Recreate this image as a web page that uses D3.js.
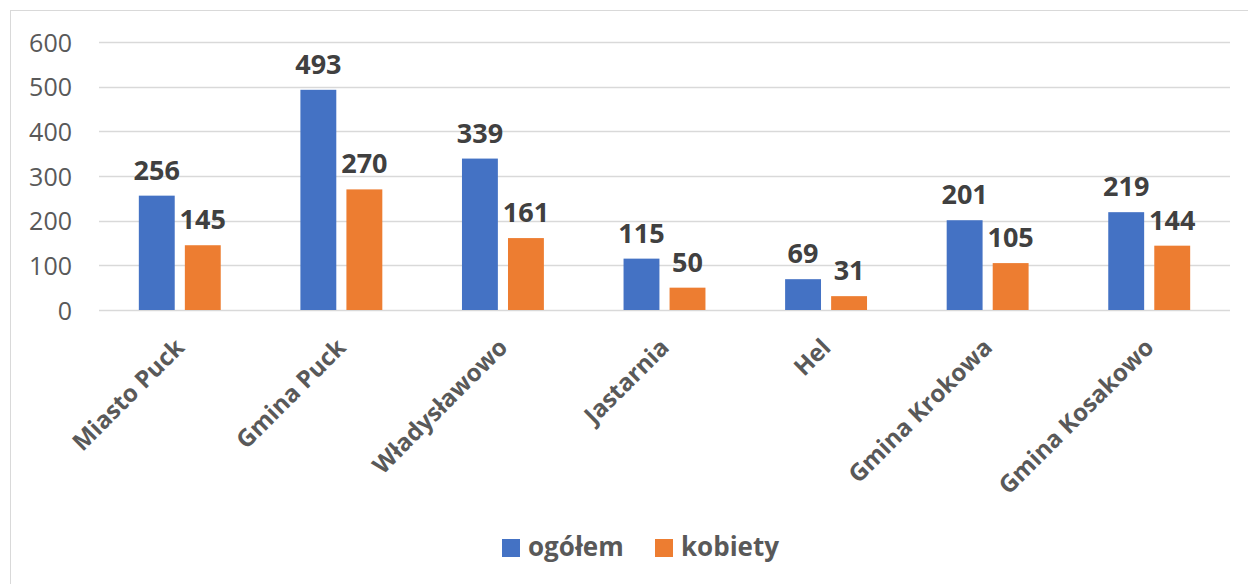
<!DOCTYPE html>
<html>
<head>
<meta charset="utf-8">
<script src="https://cdn.jsdelivr.net/npm/d3@7"></script>
<style>
  body { margin: 0; background: #fff; }
  text { font-family: "Open Sans", sans-serif; }
</style>
</head>
<body>
<svg width="1248" height="584"></svg>
<script>
var categories = ["Miasto Puck", "Gmina Puck", "Władysławowo", "Jastarnia", "Hel", "Gmina Krokowa", "Gmina Kosakowo"];
var seriesNames = ["ogółem", "kobiety"];
var ogolem = [256, 493, 339, 115, 69, 201, 219];
var kobiety = [145, 270, 161, 50, 31, 105, 144];
var yTicks = [0, 100, 200, 300, 400, 500, 600];

var colors = ["#4472C4", "#ED7D31"];

var svg = d3.select("svg"),
    width = +svg.attr("width"),
    height = +svg.attr("height");

// chart frame
svg.append("rect")
    .attr("x", 10.5).attr("y", 10.5)
    .attr("width", 1250).attr("height", 600)
    .attr("fill", "none")
    .attr("stroke", "#d9d9d9");

var plotLeft = 99, plotRight = 1230, plotTop = 42, plotBottom = 310;

var x0 = d3.scaleBand()
    .domain(categories)
    .range([plotLeft, plotRight])
    .paddingInner(0.493)
    .paddingOuter(0.2465);

var x1 = d3.scaleBand()
    .domain(seriesNames)
    .range([0, x0.bandwidth()])
    .paddingInner(0.22);

var y = d3.scaleLinear()
    .domain([0, 600])
    .range([plotBottom, plotTop]);

// grid
svg.append("g")
    .selectAll("line")
    .data(yTicks)
    .enter().append("line")
      .attr("x1", plotLeft).attr("x2", plotRight)
      .attr("y1", function(d) { return Math.round(y(d)) + 0.5; })
      .attr("y2", function(d) { return Math.round(y(d)) + 0.5; })
      .attr("stroke", "#d9d9d9")
      .attr("stroke-width", 1.5);

// y axis labels
var yAxis = d3.axisLeft(y).tickValues(yTicks).tickSize(0).tickPadding(0);
var yg = svg.append("g")
    .attr("transform", "translate(72,0)")
    .call(yAxis);
yg.select(".domain").remove();
yg.selectAll("text")
    .attr("fill", "#595959")
    .style("font-size", "25px")
    .attr("dy", "0.36em");

var rows = categories.map(function(c, i) {
  return { cat: c, values: [ogolem[i], kobiety[i]] };
});

var groups = svg.append("g")
  .selectAll("g")
  .data(rows)
  .enter().append("g")
    .attr("transform", function(d) { return "translate(" + x0(d.cat) + ",0)"; });

groups.selectAll("rect")
  .data(function(d) { return d.values.map(function(v, j) { return { s: seriesNames[j], v: v, j: j }; }); })
  .enter().append("rect")
    .attr("x", function(d) { return x1(d.s); })
    .attr("width", x1.bandwidth())
    .attr("y", function(d) { return y(d.v); })
    .attr("height", function(d) { return y(0) - y(d.v); })
    .attr("fill", function(d) { return colors[d.j]; });

groups.selectAll("text.val")
  .data(function(d) { return d.values.map(function(v, j) { return { s: seriesNames[j], v: v, j: j }; }); })
  .enter().append("text")
    .attr("class", "val")
    .attr("x", function(d) { return x1(d.s) + x1.bandwidth() / 2; })
    .attr("y", function(d) { return y(d.v) - 16; })
    .attr("text-anchor", "middle")
    .attr("fill", "#404040")
    .style("font-size", "27px")
    .style("font-weight", "bold")
    .text(function(d) { return d.v; });

// category labels
svg.append("g")
  .selectAll("text")
  .data(categories)
  .enter().append("text")
    .attr("transform", function(d) {
      return "translate(" + (x0(d) + x0.bandwidth() / 2 + 6) + ",349) rotate(-45)";
    })
    .attr("text-anchor", "end")
    .attr("fill", "#595959")
    .style("font-size", "24px")
    .style("font-weight", "bold")
    .text(function(d) { return d; });

// legend
var legendX = [502, 655];
var legend = svg.append("g")
  .selectAll("g")
  .data(seriesNames)
  .enter().append("g")
    .attr("transform", function(d, i) { return "translate(" + legendX[i] + ",539)"; });

legend.append("rect")
    .attr("width", 18).attr("height", 18)
    .attr("fill", function(d, i) { return colors[i]; });

legend.append("text")
    .attr("x", 26).attr("y", 17)
    .attr("fill", "#595959")
    .style("font-size", "26px")
    .style("font-weight", "bold")
    .text(function(d) { return d; });
</script>
</body>
</html>
